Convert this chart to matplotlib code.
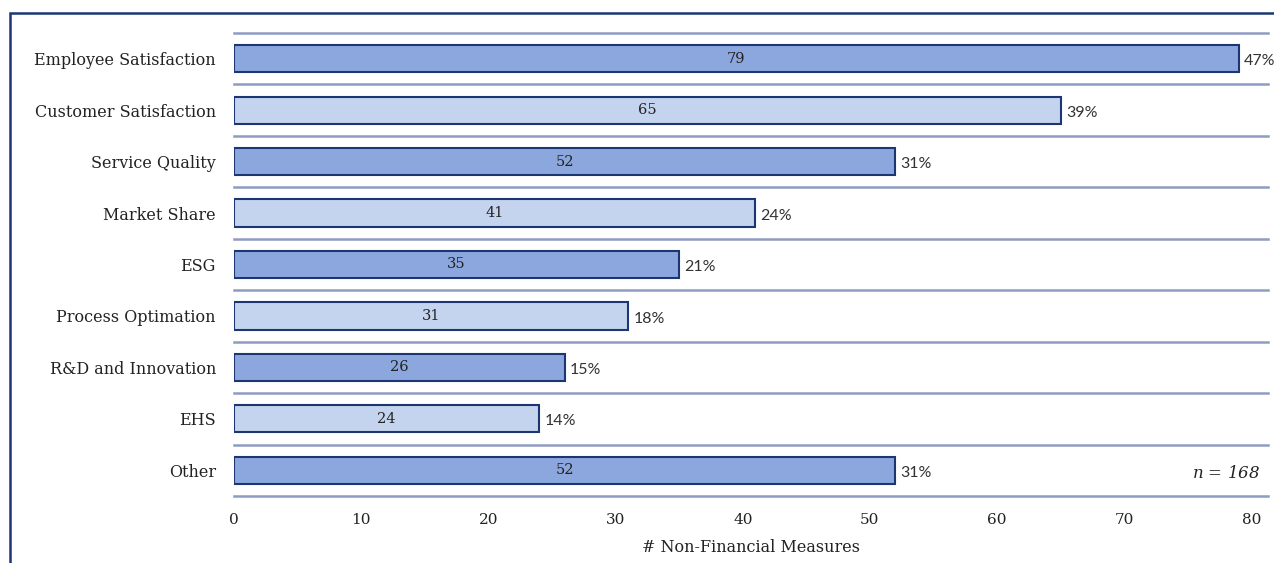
import numpy as np
import matplotlib
matplotlib.use("Agg")
import matplotlib.pyplot as plt
from matplotlib.patches import Rectangle

categories = ['Employee Satisfaction', 'Customer Satisfaction', 'Service Quality',
              'Market Share', 'ESG', 'Process Optimation', 'R&D and Innovation',
              'EHS', 'Other']
counts = [79, 65, 52, 41, 35, 31, 26, 24, 52]
shares = [47, 39, 31, 24, 21, 18, 15, 14, 31]
n_total = 168

dark = '#8BA7DD'
light = '#C5D4EE'
edge = '#1B3673'
grid = '#8E9CC2'

plt.rcParams['mathtext.fontset'] = 'dejavuserif'

fig = plt.figure(figsize=(12.74, 5.63), dpi=100)
ax = fig.add_axes([0.1837, 0.119, 0.9953 - 0.1837, 0.9414 - 0.119])

y = np.arange(len(categories))
colors = [dark if i % 2 == 0 else light for i in range(len(categories))]
bars = ax.barh(y, counts, height=0.53, color=colors, edgecolor=edge, linewidth=1.5, zorder=3)

for i, b in enumerate(bars):
    w = b.get_width()
    ax.text(w / 2, y[i], str(counts[i]), ha='center', va='center',
            fontsize=10.5, family='DejaVu Serif', color='#222222', zorder=4)
    ax.text(w + 0.4, y[i] + 0.05, f'{shares[i]}%', ha='left', va='center',
            fontsize=11.5, family='Lato', color='#333333', zorder=4, clip_on=False)

# separator lines between categories
for k in np.arange(-0.5, len(categories), 1.0):
    ax.axhline(k, color=grid, linewidth=1.8, zorder=1, clip_on=False)

ax.set_xlim(0, 81.3)
ax.set_ylim(len(categories) - 0.5, -0.5)
ax.set_yticks(y)
ax.set_yticklabels(categories, family='DejaVu Serif', fontsize=11.5, color='#222222')
ax.set_xticks(np.arange(0, 81, 10))
ax.set_xticklabels([str(v) for v in range(0, 81, 10)], family='DejaVu Serif',
                   fontsize=11, color='#222222')
ax.tick_params(axis='y', length=0, pad=13)
ax.tick_params(axis='x', length=0, pad=12)
ax.set_xlabel('# Non-Financial Measures', family='DejaVu Serif', fontsize=11.5,
              color='#222222', labelpad=9)
for s in ax.spines.values():
    s.set_visible(False)

ax.text(0.993, 0.03, f'$n$ = {n_total}', transform=ax.transAxes, ha='right', va='bottom',
        fontsize=12, family='DejaVu Serif', style='italic', color='#222222')

# outer frame
fig.patches.append(Rectangle((10 / 1274, -0.1), 1.2, 1 - 13 / 563 + 0.1,
                             transform=fig.transFigure, fill=False,
                             edgecolor='#1B3673', linewidth=1.8))

fig.savefig('out.png', dpi=100)
